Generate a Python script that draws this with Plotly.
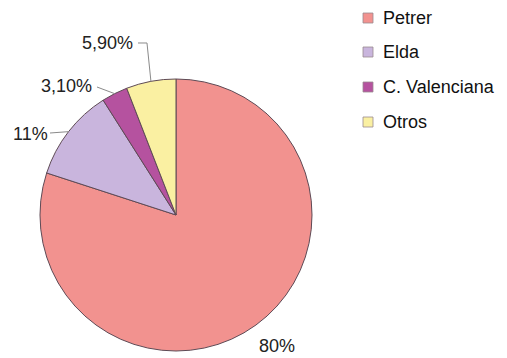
import math
import plotly.graph_objects as go

# ---- data ----
labels = ["Petrer", "Elda", "C. Valenciana", "Otros"]
values = [80.0, 11.0, 3.1, 5.9]
value_text = ["80%", "11%", "3,10%", "5,90%"]

# ---- styles / layout ----
colors = ["#F2928F", "#C9B5DD", "#B5529F", "#FAF0A2"]
W, H = 507, 358
CX, CY, R = 176, 215, 136  # pie centre/radius in pixels

# label text positions (pixels) and leader line start points
label_pos = [(277, 346), (30, 134), (66, 86), (107, 43)]
leader = [None, [(50, 133)], [(97, 87)], [(138, 43), (147, 43)]]

legend_x = 363
legend_y = [18, 52, 87, 122]


def px(x):
    return x / W


def py(y):
    return 1 - y / H


fig = go.Figure(go.Pie(
    labels=labels,
    values=values,
    sort=False,
    direction="clockwise",
    rotation=0,
    marker=dict(colors=colors, line=dict(color="#5E4A55", width=1)),
    textinfo="none",
    hoverinfo="label+percent",
    showlegend=False,
    domain=dict(x=[(CX - R) / W, (CX + R) / W], y=[1 - (CY + R) / H, 1 - (CY - R) / H]),
))

shapes = []
annotations = []
total = sum(values)
cum = 0.0
for i, v in enumerate(values):
    mid = (cum + v / 2) / total * 2 * math.pi
    cum += v
    ex = CX + R * math.sin(mid)
    ey = CY - R * math.cos(mid)
    if leader[i]:
        pts = leader[i] + [(ex, ey)]
        path = "M " + " L ".join(f"{px(x):.5f},{py(y):.5f}" for x, y in pts)
        shapes.append(dict(type="path", xref="paper", yref="paper", path=path,
                           line=dict(color="#8A8A8A", width=1)))
    lx, ly = label_pos[i]
    annotations.append(dict(x=px(lx), y=py(ly), xref="paper", yref="paper",
                            text=value_text[i], showarrow=False,
                            xanchor="center", yanchor="middle",
                            font=dict(family="Liberation Sans, Arial", size=18, color="#222222")))

# manual legend
for i, lab in enumerate(labels):
    y = legend_y[i]
    shapes.append(dict(type="rect", xref="paper", yref="paper",
                       x0=px(legend_x), x1=px(legend_x + 10),
                       y0=py(y - 5), y1=py(y + 5),
                       fillcolor=colors[i], line=dict(color="#9A8A90", width=0.8)))
    annotations.append(dict(x=px(legend_x + 18), y=py(y), xref="paper", yref="paper",
                            text=lab, showarrow=False, xanchor="left", yanchor="middle",
                            font=dict(family="Liberation Sans, Arial", size=18, color="#111111")))

fig.update_layout(
    width=W, height=H,
    margin=dict(l=0, r=0, t=0, b=0),
    paper_bgcolor="white", plot_bgcolor="white",
    shapes=shapes, annotations=annotations,
)

fig.write_html("out.html")
